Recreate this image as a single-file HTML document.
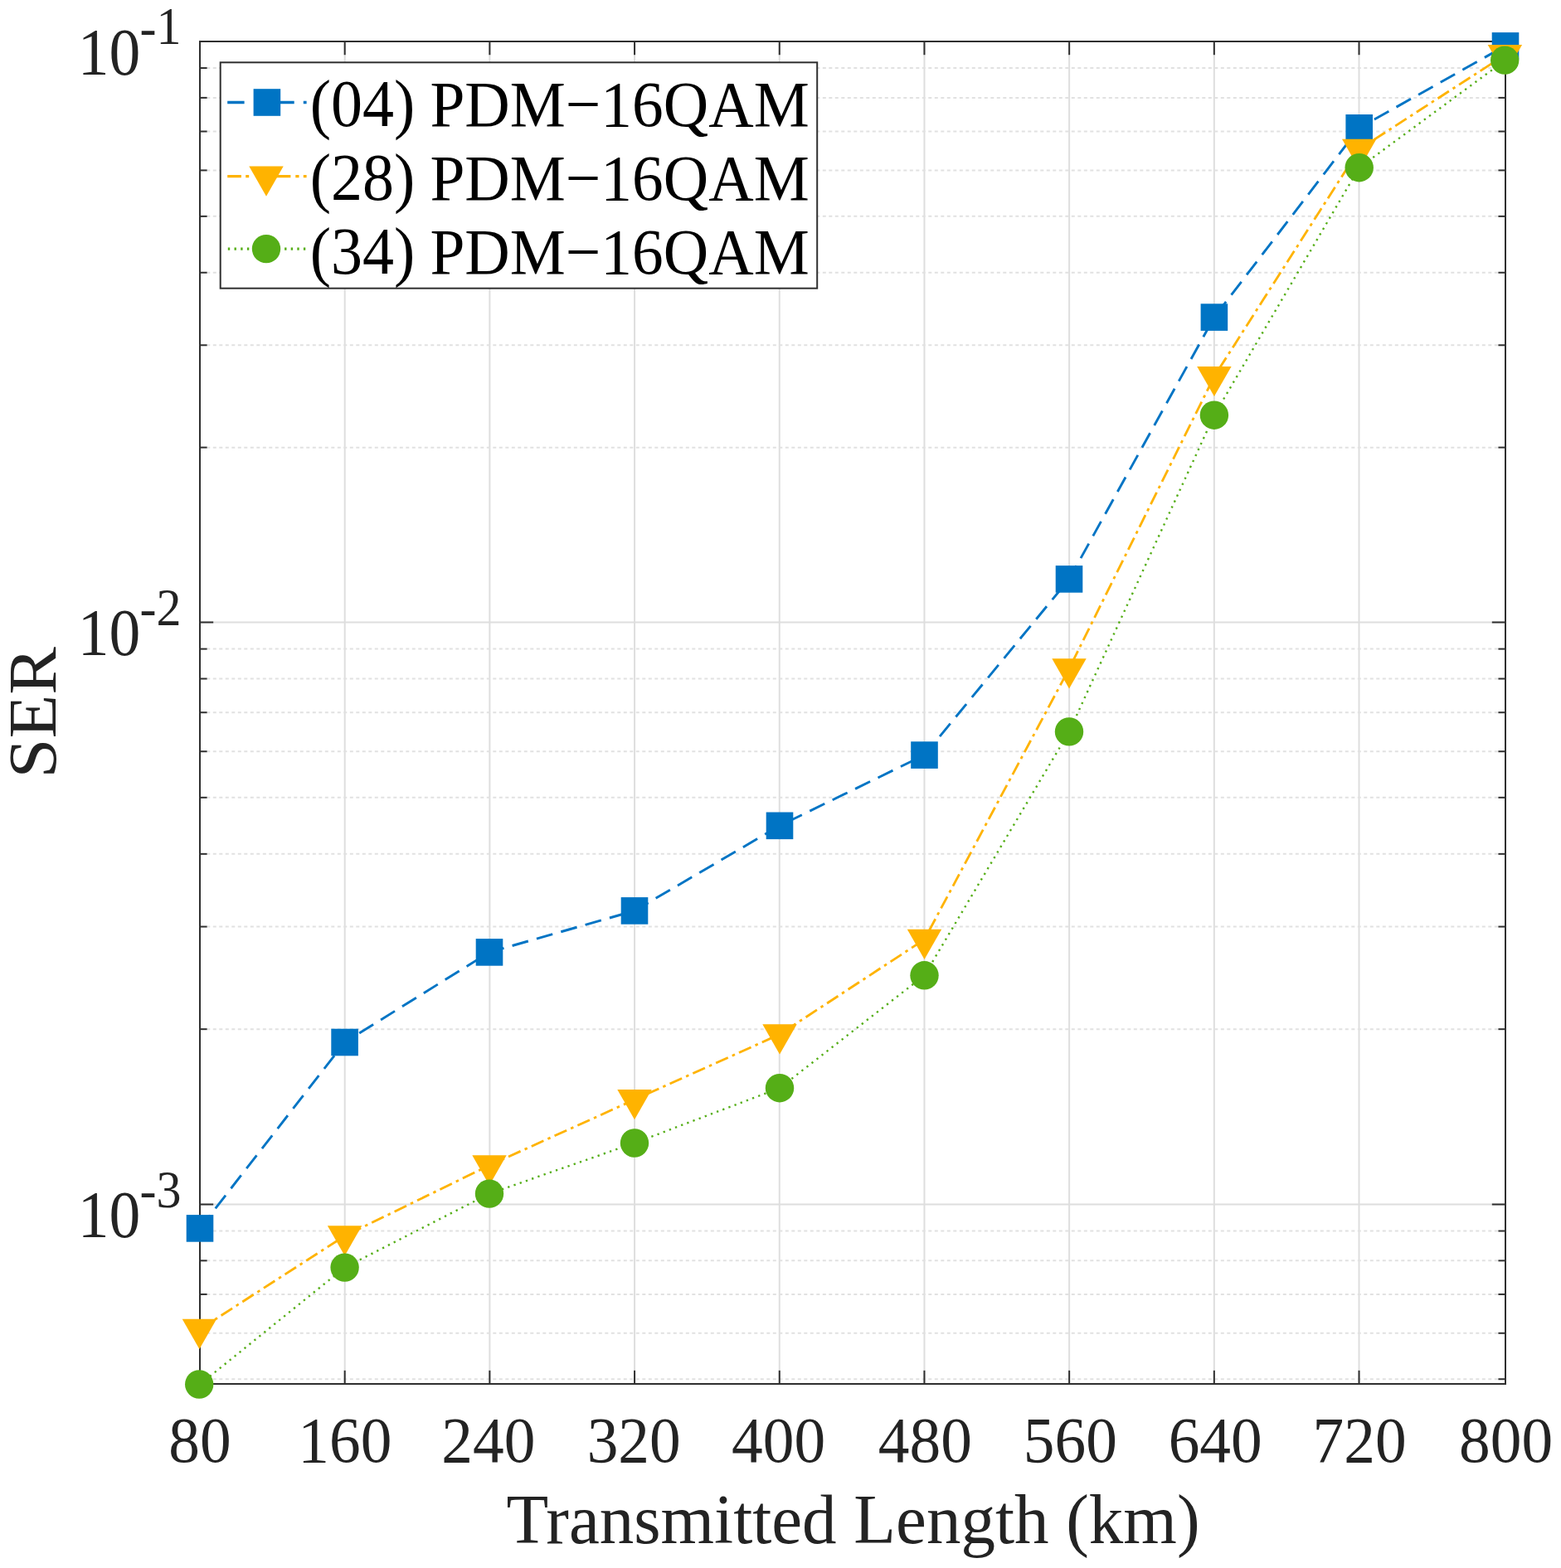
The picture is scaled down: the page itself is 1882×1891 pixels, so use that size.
<!DOCTYPE html>
<html lang="en">
<head>
<meta charset="utf-8">
<title>SER vs Transmitted Length</title>
<style>
html,body{margin:0;padding:0;background:#ffffff;}
body{width:1882px;height:1891px;overflow:hidden;}
svg{display:block;}
</style>
</head>
<body>
<svg width="1882" height="1891" viewBox="0 0 1882 1891" role="img" aria-label="SER versus transmitted length for PDM-16QAM">
<rect x="0" y="0" width="1882" height="1891" fill="#ffffff"/>
<g stroke="#dedede" stroke-width="2" fill="none">
<line x1="415.69" y1="50.0" x2="415.69" y2="1669.0"/>
<line x1="590.38" y1="50.0" x2="590.38" y2="1669.0"/>
<line x1="765.07" y1="50.0" x2="765.07" y2="1669.0"/>
<line x1="939.76" y1="50.0" x2="939.76" y2="1669.0"/>
<line x1="1114.45" y1="50.0" x2="1114.45" y2="1669.0"/>
<line x1="1289.14" y1="50.0" x2="1289.14" y2="1669.0"/>
<line x1="1463.83" y1="50.0" x2="1463.83" y2="1669.0"/>
<line x1="1638.52" y1="50.0" x2="1638.52" y2="1669.0"/>
<line x1="241.0" y1="750.50" x2="1815.0" y2="750.50"/>
<line x1="241.0" y1="1452.50" x2="1815.0" y2="1452.50"/>
</g>
<g stroke="#e1e1e1" stroke-width="2" fill="none" stroke-dasharray="4 3.5">
<line x1="249.3" y1="539.63" x2="1806.0" y2="539.63"/>
<line x1="249.3" y1="416.28" x2="1806.0" y2="416.28"/>
<line x1="249.3" y1="328.76" x2="1806.0" y2="328.76"/>
<line x1="249.3" y1="260.87" x2="1806.0" y2="260.87"/>
<line x1="249.3" y1="205.41" x2="1806.0" y2="205.41"/>
<line x1="249.3" y1="158.51" x2="1806.0" y2="158.51"/>
<line x1="249.3" y1="117.89" x2="1806.0" y2="117.89"/>
<line x1="249.3" y1="82.05" x2="1806.0" y2="82.05"/>
<line x1="249.3" y1="1241.18" x2="1806.0" y2="1241.18"/>
<line x1="249.3" y1="1117.56" x2="1806.0" y2="1117.56"/>
<line x1="249.3" y1="1029.85" x2="1806.0" y2="1029.85"/>
<line x1="249.3" y1="961.82" x2="1806.0" y2="961.82"/>
<line x1="249.3" y1="906.24" x2="1806.0" y2="906.24"/>
<line x1="249.3" y1="859.24" x2="1806.0" y2="859.24"/>
<line x1="249.3" y1="818.53" x2="1806.0" y2="818.53"/>
<line x1="249.3" y1="782.62" x2="1806.0" y2="782.62"/>
<line x1="249.3" y1="1663.22" x2="1806.0" y2="1663.22"/>
<line x1="249.3" y1="1607.79" x2="1806.0" y2="1607.79"/>
<line x1="249.3" y1="1560.93" x2="1806.0" y2="1560.93"/>
<line x1="249.3" y1="1520.34" x2="1806.0" y2="1520.34"/>
<line x1="249.3" y1="1484.53" x2="1806.0" y2="1484.53"/>
</g>
<g stroke="#2f2f2f" stroke-width="2" fill="none">
<line x1="415.69" y1="1669.0" x2="415.69" y2="1652.8"/>
<line x1="415.69" y1="50.0" x2="415.69" y2="66.2"/>
<line x1="590.38" y1="1669.0" x2="590.38" y2="1652.8"/>
<line x1="590.38" y1="50.0" x2="590.38" y2="66.2"/>
<line x1="765.07" y1="1669.0" x2="765.07" y2="1652.8"/>
<line x1="765.07" y1="50.0" x2="765.07" y2="66.2"/>
<line x1="939.76" y1="1669.0" x2="939.76" y2="1652.8"/>
<line x1="939.76" y1="50.0" x2="939.76" y2="66.2"/>
<line x1="1114.45" y1="1669.0" x2="1114.45" y2="1652.8"/>
<line x1="1114.45" y1="50.0" x2="1114.45" y2="66.2"/>
<line x1="1289.14" y1="1669.0" x2="1289.14" y2="1652.8"/>
<line x1="1289.14" y1="50.0" x2="1289.14" y2="66.2"/>
<line x1="1463.83" y1="1669.0" x2="1463.83" y2="1652.8"/>
<line x1="1463.83" y1="50.0" x2="1463.83" y2="66.2"/>
<line x1="1638.52" y1="1669.0" x2="1638.52" y2="1652.8"/>
<line x1="1638.52" y1="50.0" x2="1638.52" y2="66.2"/>
<line x1="241.0" y1="750.50" x2="257.2" y2="750.50"/>
<line x1="1815.0" y1="750.50" x2="1798.8" y2="750.50"/>
<line x1="241.0" y1="1452.50" x2="257.2" y2="1452.50"/>
<line x1="1815.0" y1="1452.50" x2="1798.8" y2="1452.50"/>
<line x1="241.0" y1="539.63" x2="249.6" y2="539.63"/>
<line x1="1815.0" y1="539.63" x2="1806.4" y2="539.63"/>
<line x1="241.0" y1="416.28" x2="249.6" y2="416.28"/>
<line x1="1815.0" y1="416.28" x2="1806.4" y2="416.28"/>
<line x1="241.0" y1="328.76" x2="249.6" y2="328.76"/>
<line x1="1815.0" y1="328.76" x2="1806.4" y2="328.76"/>
<line x1="241.0" y1="260.87" x2="249.6" y2="260.87"/>
<line x1="1815.0" y1="260.87" x2="1806.4" y2="260.87"/>
<line x1="241.0" y1="205.41" x2="249.6" y2="205.41"/>
<line x1="1815.0" y1="205.41" x2="1806.4" y2="205.41"/>
<line x1="241.0" y1="158.51" x2="249.6" y2="158.51"/>
<line x1="1815.0" y1="158.51" x2="1806.4" y2="158.51"/>
<line x1="241.0" y1="117.89" x2="249.6" y2="117.89"/>
<line x1="1815.0" y1="117.89" x2="1806.4" y2="117.89"/>
<line x1="241.0" y1="82.05" x2="249.6" y2="82.05"/>
<line x1="1815.0" y1="82.05" x2="1806.4" y2="82.05"/>
<line x1="241.0" y1="1241.18" x2="249.6" y2="1241.18"/>
<line x1="1815.0" y1="1241.18" x2="1806.4" y2="1241.18"/>
<line x1="241.0" y1="1117.56" x2="249.6" y2="1117.56"/>
<line x1="1815.0" y1="1117.56" x2="1806.4" y2="1117.56"/>
<line x1="241.0" y1="1029.85" x2="249.6" y2="1029.85"/>
<line x1="1815.0" y1="1029.85" x2="1806.4" y2="1029.85"/>
<line x1="241.0" y1="961.82" x2="249.6" y2="961.82"/>
<line x1="1815.0" y1="961.82" x2="1806.4" y2="961.82"/>
<line x1="241.0" y1="906.24" x2="249.6" y2="906.24"/>
<line x1="1815.0" y1="906.24" x2="1806.4" y2="906.24"/>
<line x1="241.0" y1="859.24" x2="249.6" y2="859.24"/>
<line x1="1815.0" y1="859.24" x2="1806.4" y2="859.24"/>
<line x1="241.0" y1="818.53" x2="249.6" y2="818.53"/>
<line x1="1815.0" y1="818.53" x2="1806.4" y2="818.53"/>
<line x1="241.0" y1="782.62" x2="249.6" y2="782.62"/>
<line x1="1815.0" y1="782.62" x2="1806.4" y2="782.62"/>
<line x1="241.0" y1="1663.22" x2="249.6" y2="1663.22"/>
<line x1="1815.0" y1="1663.22" x2="1806.4" y2="1663.22"/>
<line x1="241.0" y1="1607.79" x2="249.6" y2="1607.79"/>
<line x1="1815.0" y1="1607.79" x2="1806.4" y2="1607.79"/>
<line x1="241.0" y1="1560.93" x2="249.6" y2="1560.93"/>
<line x1="1815.0" y1="1560.93" x2="1806.4" y2="1560.93"/>
<line x1="241.0" y1="1520.34" x2="249.6" y2="1520.34"/>
<line x1="1815.0" y1="1520.34" x2="1806.4" y2="1520.34"/>
<line x1="241.0" y1="1484.53" x2="249.6" y2="1484.53"/>
<line x1="1815.0" y1="1484.53" x2="1806.4" y2="1484.53"/>
<rect x="241.0" y="50.0" width="1574.0" height="1619.0"/>
</g>
<polyline points="241.0,1481.4 415.6,1257.0 590.0,1148.4 765.0,1098.4 940.0,995.8 1114.5,910.6 1289.0,698.4 1463.9,382.6 1638.7,154.3 1814.8,55.4" fill="none" stroke="#0074c4" stroke-width="2.9" stroke-dasharray="20 10.5"/>
<polyline points="241.0,1603.0 415.6,1490.5 590.0,1405.4 765.0,1326.2 940.0,1247.4 1114.5,1133.0 1289.0,806.4 1463.9,454.1 1638.7,180.0 1814.8,66.1" fill="none" stroke="#ffb300" stroke-width="2.8" stroke-dasharray="16 5.5 3.5 5.5"/>
<polyline points="241.0,1669.5 415.6,1528.6 590.0,1439.6 765.0,1378.5 940.0,1312.2 1114.5,1176.3 1289.0,882.4 1463.9,500.7 1638.7,202.2 1814.8,72.6" fill="none" stroke="#55ae17" stroke-width="2.4" stroke-dasharray="2.3 5.35"/>
<rect x="224.70" y="1465.10" width="32.6" height="32.6" fill="#0074c4"/>
<rect x="399.30" y="1240.70" width="32.6" height="32.6" fill="#0074c4"/>
<rect x="573.70" y="1132.10" width="32.6" height="32.6" fill="#0074c4"/>
<rect x="748.70" y="1082.10" width="32.6" height="32.6" fill="#0074c4"/>
<rect x="923.70" y="979.50" width="32.6" height="32.6" fill="#0074c4"/>
<rect x="1098.20" y="894.30" width="32.6" height="32.6" fill="#0074c4"/>
<rect x="1272.70" y="682.10" width="32.6" height="32.6" fill="#0074c4"/>
<rect x="1447.60" y="366.30" width="32.6" height="32.6" fill="#0074c4"/>
<rect x="1622.40" y="138.00" width="32.6" height="32.6" fill="#0074c4"/>
<rect x="1798.70" y="39.10" width="32.6" height="32.6" fill="#0074c4"/>
<polygon points="219.70,1590.80 261.10,1590.80 240.40,1627.00" fill="#ffb300"/>
<polygon points="394.90,1478.30 436.30,1478.30 415.60,1514.50" fill="#ffb300"/>
<polygon points="569.30,1393.20 610.70,1393.20 590.00,1429.40" fill="#ffb300"/>
<polygon points="744.30,1314.00 785.70,1314.00 765.00,1350.20" fill="#ffb300"/>
<polygon points="919.30,1235.20 960.70,1235.20 940.00,1271.40" fill="#ffb300"/>
<polygon points="1093.80,1120.80 1135.20,1120.80 1114.50,1157.00" fill="#ffb300"/>
<polygon points="1268.30,794.20 1309.70,794.20 1289.00,830.40" fill="#ffb300"/>
<polygon points="1443.20,441.90 1484.60,441.90 1463.90,478.10" fill="#ffb300"/>
<polygon points="1618.00,167.80 1659.40,167.80 1638.70,204.00" fill="#ffb300"/>
<polygon points="1793.70,53.90 1835.10,53.90 1814.40,90.10" fill="#ffb300"/>
<circle cx="240.20" cy="1669.50" r="17.2" fill="#55ae17"/>
<circle cx="415.60" cy="1528.60" r="17.2" fill="#55ae17"/>
<circle cx="590.00" cy="1439.60" r="17.2" fill="#55ae17"/>
<circle cx="765.00" cy="1378.50" r="17.2" fill="#55ae17"/>
<circle cx="940.00" cy="1312.20" r="17.2" fill="#55ae17"/>
<circle cx="1114.50" cy="1176.30" r="17.2" fill="#55ae17"/>
<circle cx="1289.00" cy="882.40" r="17.2" fill="#55ae17"/>
<circle cx="1463.90" cy="500.70" r="17.2" fill="#55ae17"/>
<circle cx="1638.70" cy="202.20" r="17.2" fill="#55ae17"/>
<circle cx="1814.20" cy="72.60" r="17.2" fill="#55ae17"/>
<rect x="265.7" y="75.3" width="719.5" height="272.4" fill="#ffffff" stroke="#2f2f2f" stroke-width="2"/>
<path d="M274.2,123.5H294.6 M325.0,123.5H354.7 M365.8,123.5H369.6" fill="none" stroke="#0074c4" stroke-width="3.3"/>
<path d="M274.2,212.7H290.9 M296.2,212.7H300.2 M330.0,212.7H350.4 M356.3,212.7H360.5 M365.8,212.7H369.6" fill="none" stroke="#ffb300" stroke-width="3.3"/>
<path d="M274.8,300.1H277.2 M282.5,300.1H284.9 M290.2,300.1H292.6 M297.9,300.1H300.3 M343.1,300.1H345.5 M350.7,300.1H353.1 M358.3,300.1H360.7 M365.9,300.1H368.3" fill="none" stroke="#55ae17" stroke-width="3.3"/>
<rect x="305.60" y="107.20" width="32.6" height="32.6" fill="#0074c4"/>
<polygon points="300.30,200.50 341.70,200.50 321.00,236.70" fill="#ffb300"/>
<circle cx="321.00" cy="300.10" r="17.2" fill="#55ae17"/>
<g font-family="'Liberation Serif', serif" font-size="76" fill="#000000">
<text transform="translate(0,152.2) scale(1,1.045)"><tspan x="373.7">(04)</tspan><tspan x="499.6" font-size="75.4"> PDM−16QAM</tspan></text>
<text transform="translate(0,240.9) scale(1,1.045)"><tspan x="373.7">(28)</tspan><tspan x="499.6" font-size="75.4"> PDM−16QAM</tspan></text>
<text transform="translate(0,329.7) scale(1,1.045)"><tspan x="373.7">(34)</tspan><tspan x="499.6" font-size="75.4"> PDM−16QAM</tspan></text>
</g>
<g font-family="'Liberation Serif', serif" font-size="75.4" fill="#232323" text-anchor="middle">
<text transform="translate(241.0,1763.0) scale(1,1.047)">80</text>
<text transform="translate(415.9,1763.0) scale(1,1.047)">160</text>
<text transform="translate(588.9,1763.0) scale(1,1.047)">240</text>
<text transform="translate(764.2,1763.0) scale(1,1.047)">320</text>
<text transform="translate(938.6,1763.0) scale(1,1.047)">400</text>
<text transform="translate(1115.4,1763.0) scale(1,1.047)">480</text>
<text transform="translate(1290.3,1763.0) scale(1,1.047)">560</text>
<text transform="translate(1465.2,1763.0) scale(1,1.047)">640</text>
<text transform="translate(1639.1,1763.0) scale(1,1.047)">720</text>
<text transform="translate(1815.6,1763.0) scale(1,1.047)">800</text>
</g>
<g font-family="'Liberation Serif', serif" fill="#232323">
<text transform="translate(93.8,89.8) scale(1,1.05)" font-size="75.6">10</text>
<text transform="translate(168.5,54.9) scale(1,1.054)" font-size="60">-</text>
<text transform="translate(188.48,53.3) scale(1,1.054)" font-size="60">1</text>
<text transform="translate(93.8,790.3) scale(1,1.05)" font-size="75.6">10</text>
<text transform="translate(168.5,755.4) scale(1,1.054)" font-size="60">-</text>
<text transform="translate(188.48,753.8) scale(1,1.054)" font-size="60">2</text>
<text transform="translate(93.8,1492.3) scale(1,1.05)" font-size="75.6">10</text>
<text transform="translate(168.5,1457.4) scale(1,1.054)" font-size="60">-</text>
<text transform="translate(188.48,1455.8) scale(1,1.054)" font-size="60">3</text>
</g>
<text font-family="'Liberation Serif', serif" font-size="83" fill="#232323" text-anchor="middle" transform="translate(1028.5,1861) scale(1,1.03)">Transmitted Length (km)</text>
<text font-family="'Liberation Serif', serif" font-size="83" fill="#232323" text-anchor="middle" transform="translate(67.0,859.3) rotate(-90) scale(1.04,0.985)">SER</text>
</svg>
</body>
</html>
